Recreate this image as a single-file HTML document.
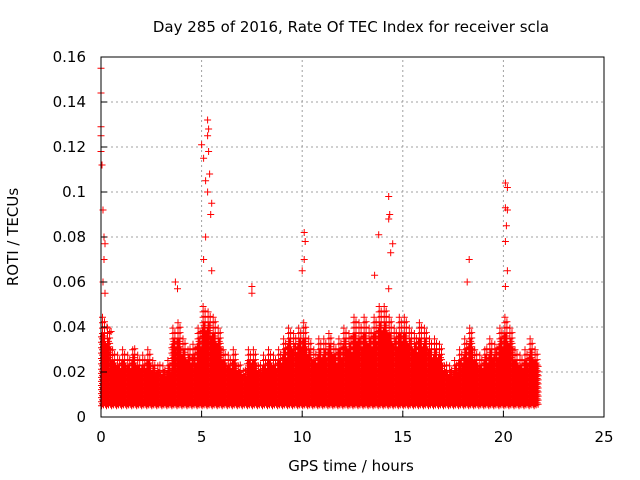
<!DOCTYPE html>
<html><head><meta charset="utf-8"><style>
body{margin:0;background:#fff;}
svg{display:block;font-family:"DejaVu Sans","Liberation Sans",sans-serif;}
</style></head><body>
<svg id="c" width="640" height="480">
<text x="351" y="32" text-anchor="middle" font-size="15">Day 285 of 2016, Rate Of TEC Index for receiver scla</text>
<text x="351" y="471" text-anchor="middle" font-size="15">GPS time / hours</text>
<text x="18" y="237" text-anchor="middle" font-size="15" transform="rotate(-90 18 237)">ROTI / TECUs</text>
<g id="grid"></g><g id="marks"></g><g id="axes"></g>
</svg>
<script>
const xTicks=[0,5,10,15,20,25];
const yTicks=[0,0.02,0.04,0.06,0.08,0.1,0.12,0.14,0.16];
const yTickLabels=["0","0.02","0.04","0.06","0.08","0.1","0.12","0.14","0.16"];
const tHours=Array.from({length:87},(_,i)=>0.125+0.25*i);
const bandHigh=[0.045,0.04,0.03,0.028,0.03,0.028,0.032,0.028,0.028,0.03,0.026,0.025,0.024,0.026,0.04,0.042,0.035,0.032,0.033,0.04,0.05,0.048,0.045,0.04,0.03,0.028,0.03,0.025,0.022,0.03,0.03,0.025,0.028,0.03,0.028,0.03,0.035,0.04,0.038,0.04,0.042,0.035,0.03,0.035,0.035,0.038,0.033,0.036,0.04,0.038,0.045,0.042,0.045,0.04,0.045,0.05,0.05,0.045,0.04,0.045,0.045,0.04,0.038,0.042,0.04,0.036,0.035,0.033,0.025,0.024,0.026,0.03,0.035,0.04,0.03,0.028,0.032,0.035,0.034,0.04,0.045,0.04,0.03,0.028,0.03,0.035,0.03];
const bandLow=0.005;
const spikeT=[0,0,0,0,0,0.05,0.1,0.15,0.2,0.15,0.1,0.2,3.7,3.8,5.0,5.1,5.2,5.3,5.35,5.3,5.35,5.4,5.3,5.5,5.45,5.2,5.1,5.5,7.5,7.5,10.1,10.15,10.1,10.0,13.8,13.6,14.3,14.35,14.3,14.5,14.4,14.3,18.3,18.2,20.1,20.2,20.1,20.2,20.15,20.1,20.2,20.1,0.3,0.5];
const spikeV=[0.155,0.144,0.129,0.125,0.118,0.112,0.092,0.08,0.077,0.07,0.06,0.055,0.06,0.057,0.121,0.115,0.105,0.132,0.128,0.125,0.118,0.108,0.1,0.095,0.09,0.08,0.07,0.065,0.058,0.055,0.082,0.078,0.07,0.065,0.081,0.063,0.098,0.09,0.088,0.077,0.073,0.057,0.07,0.06,0.104,0.102,0.093,0.092,0.085,0.078,0.065,0.058,0.04,0.038];

const X0=101,X1=604,Y0=417,Y1=57;
const xs=t=>X0+(t/25)*(X1-X0);
const ys=v=>Y0-(v/0.16)*(Y0-Y1);
const NS="http://www.w3.org/2000/svg";
const grid=document.getElementById('grid'),axes=document.getElementById('axes'),marks=document.getElementById('marks');
function mk(tag,attrs,parent){const e=document.createElementNS(NS,tag);for(const k in attrs)e.setAttribute(k,attrs[k]);parent.appendChild(e);return e;}
xTicks.forEach((t,i)=>{
  if(i>0&&i<xTicks.length-1){const g=mk('line',{x1:xs(t),x2:xs(t),y1:Y0,y2:Y1,stroke:'#a0a0a0','stroke-dasharray':'2,3'},grid);
  
  }
  const tk=mk('line',{x1:xs(t),x2:xs(t),y1:Y0,y2:Y0-6,stroke:'#000'},axes);
  
  
  const tx=mk('text',{x:xs(t),y:Y0+25,'text-anchor':'middle','font-size':15},axes);tx.textContent=t;
  
  
});
yTicks.forEach((v,i)=>{
  if(i>0&&i<yTicks.length-1){const g=mk('line',{x1:X0,x2:X1,y1:ys(v),y2:ys(v),stroke:'#a0a0a0','stroke-dasharray':'2,3'},grid);
  
  }
  const tk=mk('line',{x1:X0,x2:X0+6,y1:ys(v),y2:ys(v),stroke:'#000'},axes);
  
  
  const tx=mk('text',{x:X0-15,y:ys(v)+5,'text-anchor':'end','font-size':15},axes);tx.textContent=yTickLabels[i];
  
  
});
const fr=mk('rect',{x:X0,y:Y1,width:X1-X0,height:Y0-Y1,fill:'none',stroke:'#000'},axes);


function plus(t,v){return `M${(xs(t)-3.5).toFixed(1)} ${ys(v).toFixed(1)}h7M${xs(t).toFixed(1)} ${(ys(v)-3.5).toFixed(1)}v7`;}
const colOff=[-0.1,-0.05,0,0.05,0.1];
const colScale=[0.8,1,0.85,0.95,0.75];
const colPhase=[0,0.0009,0.0004,0.0013,0.0007];
let d='';
tHours.forEach((t,i)=>{
  const hi=bandHigh[i];
  colOff.forEach((o,k)=>{
    const top=Math.max(hi*colScale[k],0.018);
    let v=bandLow+colPhase[k];
    while(v<=top){d+=plus(t+o,v);v+=(v<0.02?0.0018:0.0024);}
  });
});
const band=mk('path',{d:d,stroke:'#ff0000','stroke-width':1,fill:'none'},marks);


spikeT.forEach((t,i)=>{
  const p=mk('path',{d:plus(t,spikeV[i]),stroke:'#ff0000','stroke-width':1,fill:'none'},marks);
  
  
});
</script>
</body></html>
